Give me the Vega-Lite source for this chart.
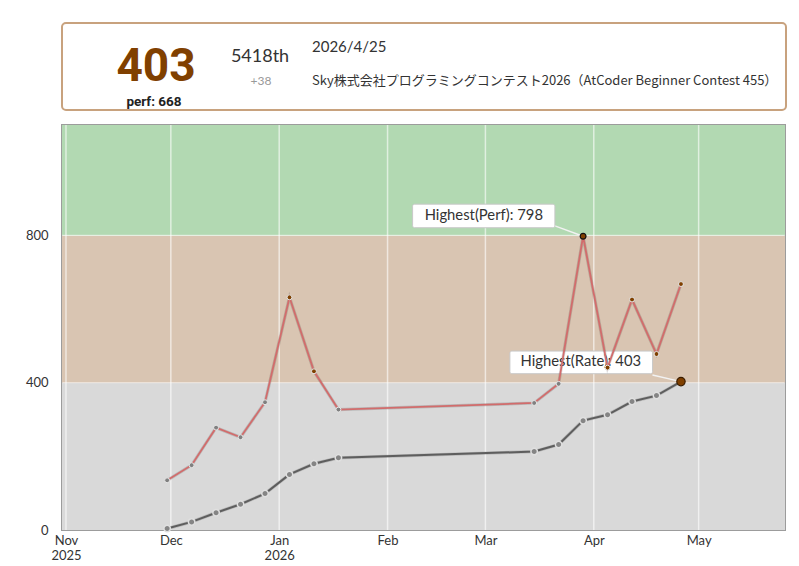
{
  "$schema": "https://vega.github.io/schema/vega-lite/v6.json",
  "background": "white",
  "padding": {"left": 24, "top": 22, "right": 5, "bottom": 5},
  "spacing": 12,
  "config": {"font": "Lato", "view": {"stroke": null}},
  "datasets": {
    "contests": [
      {"date": "2025-11-29T22:40", "rating": 4, "perf": 135},
      {"date": "2025-12-06T22:40", "rating": 22, "perf": 176},
      {"date": "2025-12-13T22:40", "rating": 47, "perf": 278},
      {"date": "2025-12-20T22:40", "rating": 70, "perf": 252},
      {"date": "2025-12-27T22:40", "rating": 99, "perf": 347},
      {"date": "2026-01-03T22:40", "rating": 151, "perf": 632},
      {"date": "2026-01-10T22:40", "rating": 180, "perf": 431},
      {"date": "2026-01-17T22:40", "rating": 196, "perf": 327},
      {"date": "2026-03-14T22:40", "rating": 213, "perf": 345},
      {"date": "2026-03-21T22:40", "rating": 232, "perf": 397},
      {"date": "2026-03-28T22:40", "rating": 297, "perf": 798},
      {"date": "2026-04-04T22:40", "rating": 313, "perf": 441},
      {"date": "2026-04-11T22:40", "rating": 349, "perf": 626},
      {"date": "2026-04-18T22:40", "rating": 365, "perf": 478},
      {"date": "2026-04-25T22:40", "rating": 403, "perf": 668}
    ],
    "header": [
      {"rating": 403, "perf": 668, "rank": "5418th", "delta": "+38", "day": "2026/4/25", "contest": "Sky株式会社プログラミングコンテスト2026（AtCoder Beginner Contest 455）"}
    ],
    "bands": [
      {"band": "gray", "lo": 0, "hi": 400},
      {"band": "brown", "lo": 400, "hi": 800},
      {"band": "green", "lo": 800, "hi": 1100}
    ],
    "months": [
      {"m": "2025-11-01T00:00"}, {"m": "2025-12-01T00:00"}, {"m": "2026-01-01T00:00"},
      {"m": "2026-02-01T00:00"}, {"m": "2026-03-01T00:00"}, {"m": "2026-04-01T00:00"},
      {"m": "2026-05-01T00:00"}
    ],
    "levels": [{"v": 400}, {"v": 800}],
    "notes": [{"perfNote": "Highest(Perf): 798", "rateNote": "Highest(Rate): 403"}]
  },
  "vconcat": [
    {
      "width": 724,
      "height": 87,
      "view": {"stroke": "#c8a27e", "strokeWidth": 2, "cornerRadius": 4, "fill": "white"},
      "data": {"name": "header"},
      "transform": [{"calculate": "'perf: ' + datum.perf", "as": "perfLabel"}],
      "layer": [
        {
          "mark": {"type": "text", "font": "Roboto", "fontWeight": "bold", "fontSize": 46, "color": "#804000", "align": "center", "baseline": "alphabetic"},
          "encoding": {
            "text": {"field": "rating"},
            "x": {"datum": 94, "type": "quantitative", "scale": {"domain": [0, 724], "nice": false, "zero": false}, "axis": null},
            "y": {"datum": 58, "type": "quantitative", "scale": {"domain": [0, 87], "nice": false, "zero": false, "reverse": true}, "axis": null}
          }
        },
        {
          "mark": {"type": "text", "font": "Roboto", "fontWeight": "bold", "fontSize": 13.5, "color": "#222", "align": "center", "baseline": "alphabetic"},
          "encoding": {
            "text": {"field": "perfLabel"},
            "x": {"datum": 92, "type": "quantitative"},
            "y": {"datum": 83, "type": "quantitative"}
          }
        },
        {
          "mark": {"type": "text", "fontSize": 18, "color": "#333", "align": "center", "baseline": "alphabetic"},
          "encoding": {
            "text": {"field": "rank"},
            "x": {"datum": 198, "type": "quantitative"},
            "y": {"datum": 39, "type": "quantitative"}
          }
        },
        {
          "mark": {"type": "text", "fontSize": 12, "color": "#999", "align": "center", "baseline": "alphabetic"},
          "encoding": {
            "text": {"field": "delta"},
            "x": {"datum": 199, "type": "quantitative"},
            "y": {"datum": 62, "type": "quantitative"}
          }
        },
        {
          "mark": {"type": "text", "fontSize": 15, "color": "#333", "align": "left", "baseline": "alphabetic"},
          "encoding": {
            "text": {"field": "day"},
            "x": {"datum": 250, "type": "quantitative"},
            "y": {"datum": 29, "type": "quantitative"}
          }
        },
        {
          "mark": {"type": "text", "font": "Noto Sans CJK JP", "fontSize": 13, "color": "#333", "align": "left", "baseline": "alphabetic"},
          "encoding": {
            "text": {"field": "contest"},
            "x": {"datum": 250, "type": "quantitative"},
            "y": {"datum": 62, "type": "quantitative"}
          }
        }
      ]
    },
    {
      "width": 723,
      "height": 405,
      "view": {"stroke": "#9c9c9c", "strokeWidth": 2},
      "encoding": {
        "x": {
          "type": "temporal",
          "scale": {"domain": [{"year": 2025, "month": 10, "date": 30, "hours": 20, "minutes": 40}, {"year": 2026, "month": 5, "date": 25, "hours": 17}], "nice": false},
          "axis": {
            "title": null, "grid": false, "ticks": false, "domain": false,
            "tickCount": {"interval": "month", "step": 1},
            "labelFont": "Lato", "labelFontSize": 13, "labelColor": "#333",
            "labelPadding": 4, "labelBaseline": "top", "labelLineHeight": 15,
            "labelFlush": false, "labelOverlap": false,
            "labelExpr": "(month(datum.value) == 0 || datum.index == 0) ? [timeFormat(datum.value, '%b'), timeFormat(datum.value, '%Y')] : timeFormat(datum.value, '%b')"
          }
        },
        "y": {
          "type": "quantitative",
          "scale": {"domain": [0, 1100], "nice": false, "zero": false},
          "axis": {"title": null, "grid": false, "ticks": false, "domain": false, "values": [0, 400, 800], "labelFont": "Lato", "labelFontSize": 13, "labelColor": "#333", "labelPadding": 14}
        }
      },
      "layer": [
        {
          "data": {"name": "bands"},
          "mark": {"type": "rect"},
          "encoding": {
            "x": null,
            "y": {"field": "lo", "type": "quantitative"},
            "y2": {"field": "hi"},
            "color": {"field": "band", "type": "nominal", "scale": {"domain": ["gray", "brown", "green"], "range": ["#d9d9d9", "#d9c5b2", "#b2d9b2"]}, "legend": null}
          }
        },
        {
          "data": {"name": "months"},
          "mark": {"type": "rule", "color": "white", "strokeWidth": 1.5, "opacity": 0.6},
          "encoding": {"x": {"field": "m", "type": "temporal"}, "y": null}
        },
        {
          "data": {"name": "levels"},
          "mark": {"type": "rule", "color": "white", "strokeWidth": 1.2, "opacity": 0.5},
          "encoding": {"x": null, "y": {"field": "v", "type": "quantitative"}}
        },
        {
          "data": {"name": "notes"},
          "mark": {"type": "rule", "color": "#f2f2f2", "strokeWidth": 1.5},
          "encoding": {
            "x": {"datum": {"year": 2026, "month": 3, "date": 20, "hours": 21}, "type": "temporal"},
            "x2": {"datum": {"year": 2026, "month": 3, "date": 28, "hours": 22, "minutes": 40}},
            "y": {"datum": 826, "type": "quantitative"},
            "y2": {"datum": 798}
          }
        },
        {
          "data": {"name": "notes"},
          "mark": {"type": "rule", "color": "#f2f2f2", "strokeWidth": 1.5},
          "encoding": {
            "x": {"datum": {"year": 2026, "month": 4, "date": 17, "hours": 19}, "type": "temporal"},
            "x2": {"datum": {"year": 2026, "month": 4, "date": 25, "hours": 22, "minutes": 40}},
            "y": {"datum": 421, "type": "quantitative"},
            "y2": {"datum": 403}
          }
        },
        {
          "data": {"name": "notes"},
          "mark": {"type": "rect", "fill": "white", "stroke": "#c8c8c8", "strokeWidth": 1, "cornerRadius": 2},
          "encoding": {
            "x": {"datum": {"year": 2026, "month": 2, "date": 8, "hours": 4}, "type": "temporal"},
            "x2": {"datum": {"year": 2026, "month": 3, "date": 20, "hours": 21}},
            "y": {"datum": 885, "type": "quantitative"},
            "y2": {"datum": 821}
          }
        },
        {
          "data": {"name": "notes"},
          "mark": {"type": "text", "fontSize": 14.8, "color": "#333", "align": "center", "baseline": "middle"},
          "encoding": {
            "text": {"field": "perfNote"},
            "x": {"datum": {"year": 2026, "month": 2, "date": 28, "hours": 13}, "type": "temporal"},
            "y": {"datum": 853, "type": "quantitative"}
          }
        },
        {
          "data": {"name": "notes"},
          "mark": {"type": "rect", "fill": "white", "stroke": "#c8c8c8", "strokeWidth": 1, "cornerRadius": 2},
          "encoding": {
            "x": {"datum": {"year": 2026, "month": 3, "date": 8, "hours": 0}, "type": "temporal"},
            "x2": {"datum": {"year": 2026, "month": 4, "date": 17, "hours": 19, "minutes": 40}},
            "y": {"datum": 486, "type": "quantitative"},
            "y2": {"datum": 424.5}
          }
        },
        {
          "data": {"name": "notes"},
          "mark": {"type": "text", "fontSize": 14.8, "color": "#333", "align": "center", "baseline": "middle"},
          "encoding": {
            "text": {"field": "rateNote"},
            "x": {"datum": {"year": 2026, "month": 3, "date": 28, "hours": 7}, "type": "temporal"},
            "y": {"datum": 455, "type": "quantitative"}
          }
        },
        {
          "data": {"name": "contests"},
          "mark": {"type": "line", "color": "#000", "opacity": 0.14, "strokeWidth": 3.2},
          "encoding": {"x": {"field": "date", "type": "temporal"}, "y": {"field": "perf", "type": "quantitative"}}
        },
        {
          "data": {"name": "contests"},
          "mark": {"type": "line", "color": "#d26c6c", "strokeWidth": 1.8},
          "encoding": {"x": {"field": "date", "type": "temporal"}, "y": {"field": "perf", "type": "quantitative"}}
        },
        {
          "data": {"name": "contests"},
          "mark": {"type": "line", "color": "#000", "opacity": 0.14, "strokeWidth": 3.4},
          "encoding": {"x": {"field": "date", "type": "temporal"}, "y": {"field": "rating", "type": "quantitative"}}
        },
        {
          "data": {"name": "contests"},
          "mark": {"type": "line", "color": "#5e5e5e", "strokeWidth": 2},
          "encoding": {"x": {"field": "date", "type": "temporal"}, "y": {"field": "rating", "type": "quantitative"}}
        },
        {
          "data": {"name": "contests"},
          "mark": {"type": "point", "shape": "circle", "filled": true, "size": 24, "stroke": "#e6e6e6", "strokeWidth": 1, "opacity": 1},
          "encoding": {
            "x": {"field": "date", "type": "temporal"},
            "y": {"field": "perf", "type": "quantitative"},
            "fill": {"field": "perf", "type": "quantitative", "scale": {"type": "threshold", "domain": [400, 800], "range": ["#808080", "#804000", "#008000"]}, "legend": null}
          }
        },
        {
          "data": {"name": "contests"},
          "transform": [{"filter": {"field": "perf", "equal": 798}}],
          "mark": {"type": "point", "shape": "circle", "filled": true, "size": 34, "fill": "#804000", "stroke": "#111", "strokeWidth": 1.2, "opacity": 1},
          "encoding": {"x": {"field": "date", "type": "temporal"}, "y": {"field": "perf", "type": "quantitative"}}
        },
        {
          "data": {"name": "contests"},
          "mark": {"type": "point", "shape": "circle", "filled": true, "size": 42, "fill": "#858585", "stroke": "#e0e0e0", "strokeWidth": 1.5, "opacity": 1},
          "encoding": {"x": {"field": "date", "type": "temporal"}, "y": {"field": "rating", "type": "quantitative"}}
        },
        {
          "data": {"name": "contests"},
          "transform": [{"filter": {"field": "rating", "equal": 403}}],
          "mark": {"type": "point", "shape": "circle", "filled": true, "size": 70, "fill": "#804000", "stroke": "#3a1d00", "strokeWidth": 1.2, "opacity": 1},
          "encoding": {"x": {"field": "date", "type": "temporal"}, "y": {"field": "rating", "type": "quantitative"}}
        }
      ]
    }
  ]
}
